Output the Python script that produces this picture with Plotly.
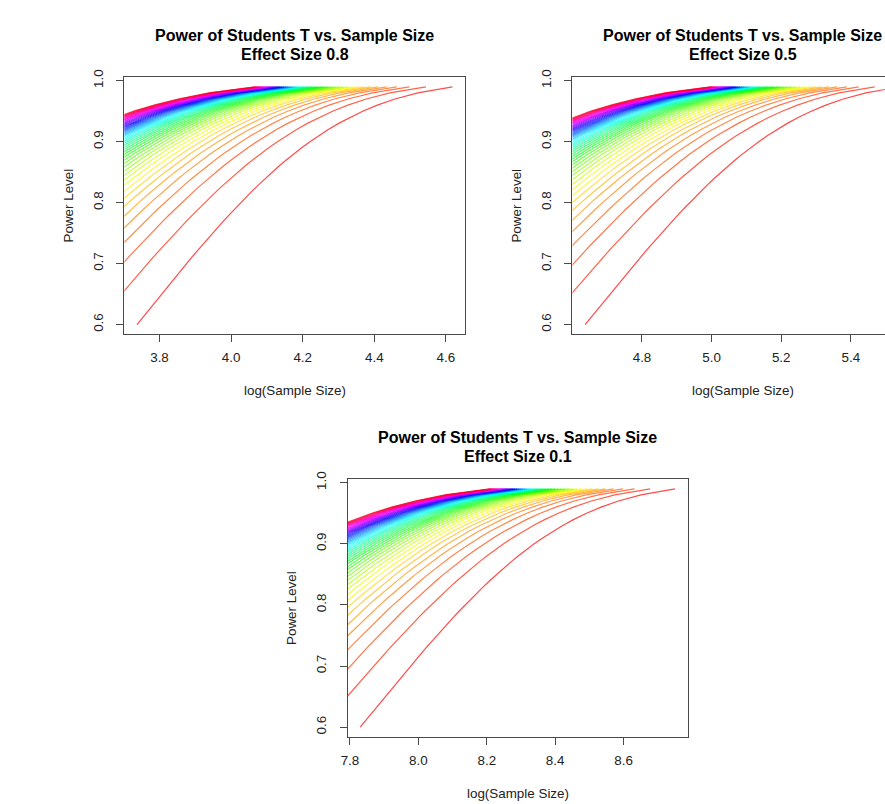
import math
import colorsys
from statistics import NormalDist
import plotly.graph_objects as go

# ---------------- data ----------------
EFFECT_SIZES = [0.8, 0.5, 0.1]
SIG_LEVELS = [0.001, 0.002, 0.003, 0.004, 0.005, 0.006, 0.007, 0.008, 0.009, 0.010,
              0.011, 0.012, 0.013, 0.014, 0.015, 0.016, 0.017, 0.018, 0.019, 0.020,
              0.021, 0.022, 0.023, 0.024, 0.025, 0.026, 0.027, 0.028, 0.029, 0.030,
              0.031, 0.032, 0.033, 0.034, 0.035, 0.036, 0.037, 0.038, 0.039, 0.040,
              0.041, 0.042, 0.043, 0.044, 0.045, 0.046, 0.047, 0.048, 0.049, 0.050]
POWER_LEVELS = [0.60, 0.61, 0.62, 0.63, 0.64, 0.65, 0.66, 0.67, 0.68, 0.69,
                0.70, 0.71, 0.72, 0.73, 0.74, 0.75, 0.76, 0.77, 0.78, 0.79,
                0.80, 0.81, 0.82, 0.83, 0.84, 0.85, 0.86, 0.87, 0.88, 0.89,
                0.90, 0.91, 0.92, 0.93, 0.94, 0.95, 0.96, 0.97, 0.98, 0.99]
X_TICKS = [[3.8, 4.0, 4.2, 4.4, 4.6],
           [4.8, 5.0, 5.2, 5.4],
           [7.8, 8.0, 8.2, 8.4, 8.6]]
Y_TICKS = [0.6, 0.7, 0.8, 0.9, 1.0]
TITLE_LINE1 = "Power of Students T vs. Sample Size"
X_TITLE = "log(Sample Size)"
Y_TITLE = "Power Level"

# ---------------- two-sample t-test sample size (per group) ----------------
ND = NormalDist()


def qt(p, df):
    z = ND.inv_cdf(p)
    g1 = (z ** 3 + z) / 4
    g2 = (5 * z ** 5 + 16 * z ** 3 + 3 * z) / 96
    g3 = (3 * z ** 7 + 19 * z ** 5 + 17 * z ** 3 - 15 * z) / 384
    g4 = (79 * z ** 9 + 776 * z ** 7 + 1482 * z ** 5 - 1920 * z ** 3 - 945 * z) / 92160
    return z + g1 / df + g2 / df ** 2 + g3 / df ** 3 + g4 / df ** 4


def t_power(n, d, a):
    df = 2 * (n - 1)
    ncp = math.sqrt(n / 2) * d
    tc = qt(1 - a / 2, df)
    return ND.cdf((ncp - tc * (1 - 1 / (4 * df))) / math.sqrt(1 + tc * tc / (2 * df)))


def sample_size(d, a, p):
    lo, hi = math.log(2.5), math.log(1e7)
    for _ in range(70):
        mid = 0.5 * (lo + hi)
        if t_power(math.exp(mid), d, a) < p:
            lo = mid
        else:
            hi = mid
    return math.exp(0.5 * (lo + hi))


# ---------------- layout geometry (pixels) ----------------
W, H = 885, 804
PANELS = [
    dict(left=118.3, right=461.7, top=70.0, bottom=329.3, vis_right=461.7),
    dict(left=570.0, right=913.0, top=70.0, bottom=329.3, vis_right=885.0),
    dict(left=343.3, right=686.0, top=476.0, bottom=736.0, vis_right=686.0),
]


def px(x):
    return x / W


def py(y):
    return 1 - y / H


n_lines = len(SIG_LEVELS)
COLORS = []
for k in range(n_lines):
    r, g, b = colorsys.hsv_to_rgb(k / n_lines, 1, 1)
    COLORS.append("rgb(%d,%d,%d)" % (round(r * 255), round(g * 255), round(b * 255)))

FONT = "Liberation Sans, Arial, Helvetica, sans-serif"
AX_COL = "#4a4a4a"

fig = go.Figure()
annotations = []
layout_axes = {}

for i, (d, geo) in enumerate(zip(EFFECT_SIZES, PANELS)):
    suffix = "" if i == 0 else str(i + 1)
    curves = []
    for a in SIG_LEVELS:
        xs = [math.log(sample_size(d, a, p)) for p in POWER_LEVELS]
        curves.append(xs)
    # R default axis range: first curve +/- 4%
    xmin, xmax = min(curves[0]), max(curves[0])
    xr = xmax - xmin
    lo, hi = xmin - 0.04 * xr, xmax + 0.04 * xr
    vis_hi = lo + (hi - lo) * (geo["vis_right"] - geo["left"]) / (geo["right"] - geo["left"])
    ymin, ymax = min(POWER_LEVELS), max(POWER_LEVELS)
    yr = ymax - ymin
    ylo, yhi = ymin - 0.04 * yr, ymax + 0.04 * yr

    for xs, c in zip(curves, COLORS):
        fig.add_trace(go.Scatter(
            x=xs, y=POWER_LEVELS, mode="lines",
            line=dict(color=c, width=1.2), opacity=0.7,
            xaxis="x" + suffix, yaxis="y" + suffix,
            showlegend=False, hoverinfo="skip"))

    layout_axes["xaxis" + suffix] = dict(
        domain=[px(geo["left"]), min(1.0, px(geo["vis_right"]))],
        range=[lo, vis_hi], anchor="y" + suffix,
        showline=True, linecolor=AX_COL, linewidth=1, mirror=True,
        ticks="outside", ticklen=7, tickcolor=AX_COL, tickwidth=1,
        tickvals=X_TICKS[i], ticktext=["%.1f" % v for v in X_TICKS[i]],
        showgrid=False, zeroline=False,
        tickfont=dict(family=FONT, size=13.4, color="#222"),
        ticklabelstandoff=4)
    layout_axes["yaxis" + suffix] = dict(
        domain=[py(geo["bottom"]), py(geo["top"])],
        range=[ylo, yhi], anchor="x" + suffix,
        showline=True, linecolor=AX_COL, linewidth=1, mirror=(i != 1),
        ticks="outside", ticklen=7, tickcolor=AX_COL, tickwidth=1,
        tickvals=Y_TICKS, ticktext=["%.1f" % v for v in Y_TICKS],
        tickangle=-90,
        showgrid=False, zeroline=False,
        tickfont=dict(family=FONT, size=13.4, color="#222"),
        ticklabelstandoff=8)

    cx = 0.5 * (geo["left"] + geo["right"])
    cy = 0.5 * (geo["top"] + geo["bottom"])
    annotations.append(dict(x=px(cx), y=py(geo["top"] - 42), xref="paper", yref="paper",
                            text="<b>%s</b>" % TITLE_LINE1, showarrow=False,
                            font=dict(family=FONT, size=16, color="#000"),
                            xanchor="center", yanchor="middle"))
    annotations.append(dict(x=px(cx), y=py(geo["top"] - 23), xref="paper", yref="paper",
                            text="<b>Effect Size %s</b>" % d, showarrow=False,
                            font=dict(family=FONT, size=16, color="#000"),
                            xanchor="center", yanchor="middle"))
    annotations.append(dict(x=px(cx), y=py(geo["bottom"] + 57), xref="paper", yref="paper",
                            text=X_TITLE, showarrow=False,
                            font=dict(family=FONT, size=13.4, color="#222"),
                            xanchor="center", yanchor="middle"))
    annotations.append(dict(x=px(geo["left"] - 56), y=py(cy), xref="paper", yref="paper",
                            text=Y_TITLE, showarrow=False, textangle=-90,
                            font=dict(family=FONT, size=13.4, color="#222"),
                            xanchor="center", yanchor="middle"))

fig.update_layout(
    width=W, height=H,
    margin=dict(l=0, r=0, t=0, b=0),
    paper_bgcolor="white", plot_bgcolor="white",
    annotations=annotations,
    font=dict(family=FONT),
    **layout_axes)

fig.write_html(
    "out.html",
    config={"displayModeBar": False},
    post_script="document.documentElement.style.overflow='hidden';"
                "document.body.style.margin='0';document.body.style.padding='0';"
                "document.body.style.overflow='hidden';")
